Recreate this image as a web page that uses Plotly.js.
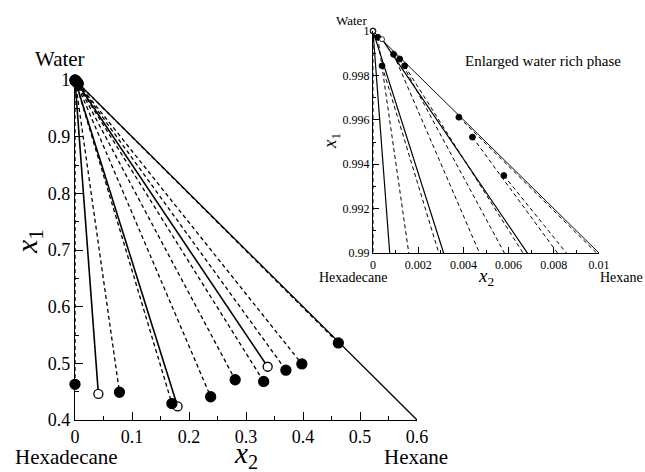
<!DOCTYPE html>
<html>
<head>
<meta charset="utf-8">
<script src="https://cdn.plot.ly/plotly-3.0.1.min.js"></script>
<style>html,body{margin:0;padding:0;background:#fff}#chart{width:645px;height:472px}</style>
</head>
<body>
<div id="chart"></div>
<script>
// ---- data: tie lines (organic-rich end and water-rich end) ----
const orgX2 = [0, 0.041, 0.078, 0.170, 0.180, 0.238, 0.281, 0.331, 0.338, 0.370, 0.398, 0.462];
const orgX1 = [0.463, 0.446, 0.449, 0.429, 0.424, 0.441, 0.471, 0.468, 0.494, 0.488, 0.499, 0.536];
const aqX2  = [0, 0, 0.00021, 0.0004, 0, 0.00091, 0.00118, 0.0014, 0.0004, 0.0044, 0.00579, 0.0038];
const aqX1  = [1, 1, 0.99972, 0.99843, 1, 0.99895, 0.99874, 0.99843, 0.99963, 0.99522, 0.99349, 0.99612];
// 'exp' = filled symbols, dashed tie line; 'calc' = open symbols, solid tie line
const kind  = ['exp','calc','exp','exp','calc','exp','exp','exp','calc','exp','exp','exp'];
// binary water-hexane edge (x1 + x2 = 1)
const edgeX2 = [0, 0.6];
const edgeX1 = [1, 0.4];
const edgeInsetX2 = [0, 0.01];
const edgeInsetX1 = [1, 0.99];
// tick labels
const mainXTicks = [0, 0.1, 0.2, 0.3, 0.4, 0.5, 0.6];
const mainXText  = ['0', '0.1', '0.2', '0.3', '0.4', '0.5', '0.6'];
const mainYTicks = [0.4, 0.5, 0.6, 0.7, 0.8, 0.9, 1];
const mainYText  = ['0.4', '0.5', '0.6', '0.7', '0.8', '0.9', '1'];
const insXTicks = [0, 0.002, 0.004, 0.006, 0.008, 0.01];
const insXText  = ['0', '0.002', '0.004', '0.006', '0.008', '0.01'];
const insYTicks = [0.99, 0.992, 0.994, 0.996, 0.998, 1];
const insYText  = ['0.99', '0.992', '0.994', '0.996', '0.998', '1'];

const SERIF = 'Liberation Serif, Times New Roman, serif';
const traces = [];

function addPanel(xa, ya, lw, dlw, msize, edgeX, edgeY, mlw, order) {
  traces.push({x: edgeX, y: edgeY, xaxis: xa, yaxis: ya, mode: 'lines',
    line: {color: '#000', width: lw * 0.8}, hoverinfo: 'skip', showlegend: false});
  for (let i = 0; i < orgX2.length; i++) {
    const exp = kind[i] === 'exp';
    traces.push({x: [aqX2[i], orgX2[i]], y: [aqX1[i], orgX1[i]], xaxis: xa, yaxis: ya,
      mode: 'lines', line: {color: '#000', width: exp ? dlw : lw, dash: exp ? '4px,3px' : 'solid'},
      hoverinfo: 'skip', showlegend: false});
  }
  const pick = (arr, k) => arr.filter((_, i) => kind[i] === k);
  order.forEach(k => {
    const open = k === 'calc';
    traces.push({x: pick(orgX2, k).concat(pick(aqX2, k)), y: pick(orgX1, k).concat(pick(aqX1, k)),
      xaxis: xa, yaxis: ya, mode: 'markers', cliponaxis: false,
      marker: {size: open ? msize - 1 : msize, color: open ? '#fff' : '#000', line: {color: '#000', width: mlw}},
      hoverinfo: 'skip', showlegend: false});
  });
}
addPanel('x', 'y', 1.6, 1.3, 10, edgeX2, edgeX1, 1.3, ['calc', 'exp']);
addPanel('x2', 'y2', 1.2, 1.0, 6, edgeInsetX2, edgeInsetX1, 0.8, ['exp', 'calc']);

const W = 645, H = 472;
const px = (x) => x / W, py = (y) => 1 - y / H;

function axis(domain, range, tv, tt, anchor, fs, tl, mdt, extra) {
  return Object.assign({domain: domain, range: range, anchor: anchor, tickmode: 'array',
    tickvals: tv, ticktext: tt, ticks: 'inside', ticklen: tl, tickwidth: 1, tickcolor: '#000',
    showline: true, linecolor: '#000', linewidth: 1.2, mirror: false, showgrid: false,
    zeroline: false, tickfont: {family: SERIF, size: fs, color: '#000'},
    minor: {tickmode: 'linear', tick0: range[0], dtick: mdt, ticks: 'inside', ticklen: tl * 0.55,
      tickcolor: '#000', showgrid: false}}, extra || {});
}

function ann(text, x, y, size, extra) {
  return Object.assign({text: text, x: px(x), y: py(y), xref: 'paper', yref: 'paper',
    showarrow: false, xanchor: 'center', yanchor: 'middle',
    font: {family: SERIF, size: size, color: '#000'}}, extra || {});
}

const layout = {
  width: W, height: H, margin: {l: 0, r: 0, t: 0, b: 0},
  paper_bgcolor: '#fff', plot_bgcolor: 'rgba(0,0,0,0)', showlegend: false,
  xaxis: axis([px(75), px(417)], [0, 0.6], mainXTicks, mainXText, 'y', 18, 8, 0.05),
  yaxis: axis([py(420), py(80)], [0.4, 1], mainYTicks, mainYText, 'x', 18, 8, 0.05),
  xaxis2: axis([px(373), px(599)], [0, 0.01], insXTicks, insXText, 'y2', 12, 6, 0.001),
  yaxis2: axis([py(253), py(31)], [0.99, 1], insYTicks, insYText, 'x2', 12, 6, 0.001),
  annotations: [
    ann('Water', 60, 59, 21),
    ann('Hexadecane', 66, 457, 21),
    ann('Hexane', 416, 457, 21),
    ann('<i>x</i><sub>2</sub>', 246, 455, 29),
    ann('<i>x</i><sub>1</sub>', 29, 242, 30, {textangle: -90}),
    ann('Water', 351, 20, 13),
    ann('Enlarged water rich phase', 543, 61, 15),
    ann('Hexadecane', 353, 277, 14),
    ann('Hexane', 621, 277, 14),
    ann('<i>x</i><sub>2</sub>', 486, 277, 19),
    ann('<i>x</i><sub>1</sub>', 331, 141, 19, {textangle: -90})
  ]
};

Plotly.newPlot('chart', traces, layout, {staticPlot: true, displayModeBar: false});
</script>
</body>
</html>
